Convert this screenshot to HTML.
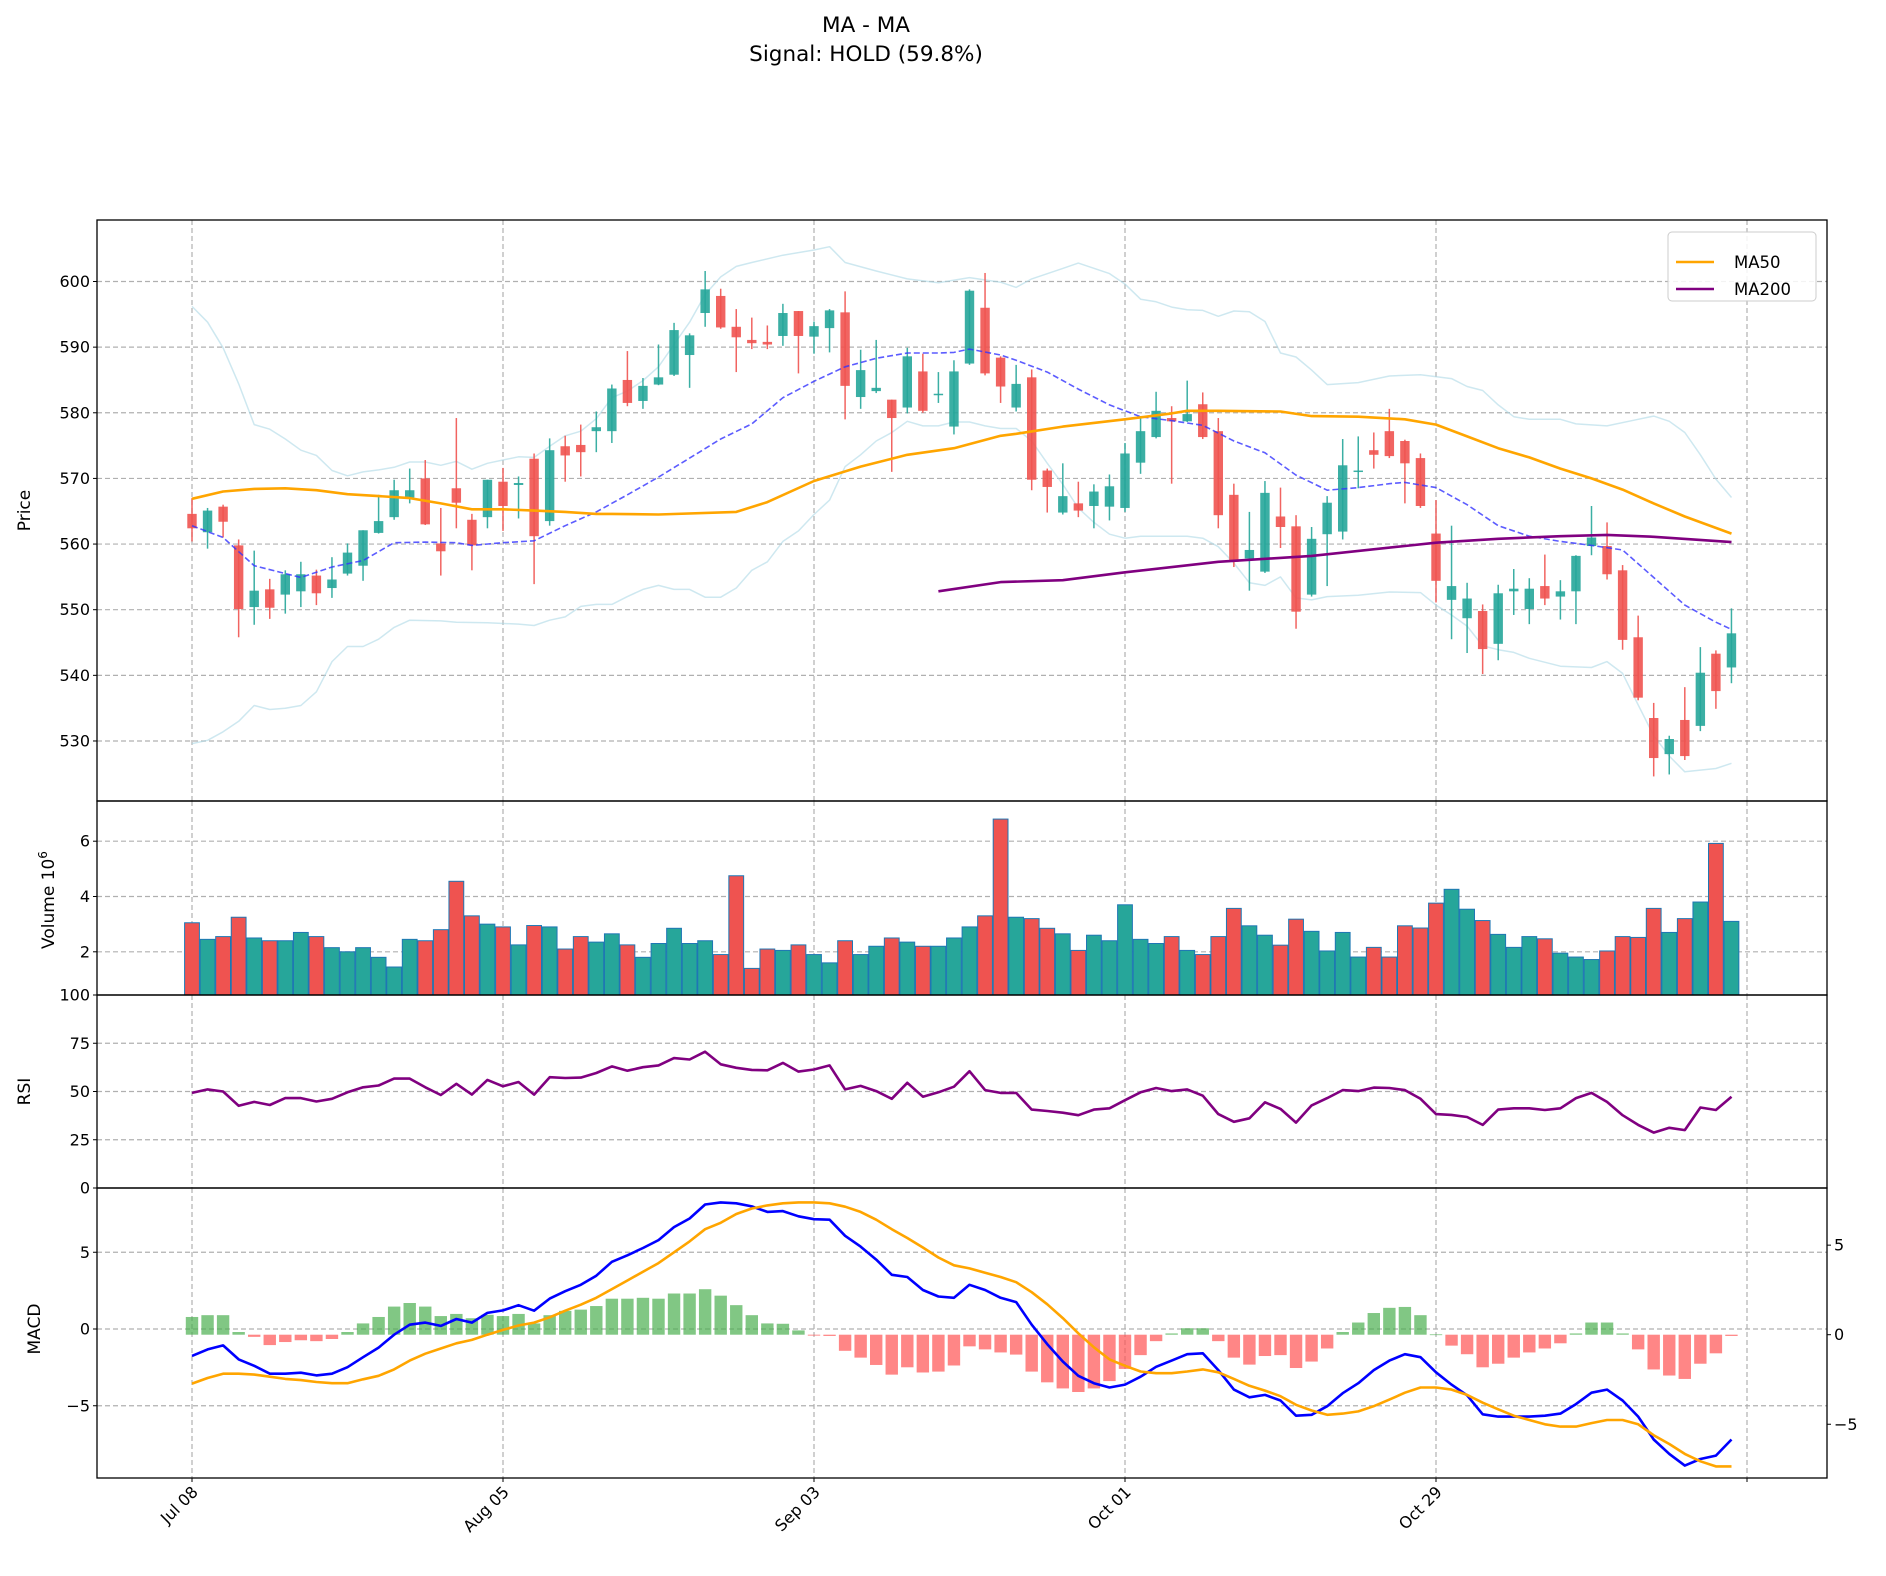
<!DOCTYPE html>
<html><head><meta charset="utf-8"><style>
body{margin:0;background:#fff}
svg{display:block;font-family:"DejaVu Sans","Liberation Sans",sans-serif}
</style></head><body>
<svg id="chart" width="1886" height="1576" viewBox="0 0 1886 1576" xmlns="http://www.w3.org/2000/svg">
<rect width="1886" height="1576" fill="#fff"/>
<text x="866" y="32" font-size="21.5" text-anchor="middle">MA - MA</text>
<text x="866" y="61" font-size="21.5" text-anchor="middle">Signal: HOLD (59.8%)</text>
<g id="grid"></g>
<g id="marks"></g>
<g id="axes"></g>
<g>
<rect x="1668" y="232" width="148" height="69" rx="4" fill="#fff" fill-opacity="0.85" stroke="#ccc"/>
<line x1="1676" y1="262" x2="1714" y2="262" stroke="orange" stroke-width="2.5"/>
<text x="1734" y="268" font-size="16.5">MA50</text>
<line x1="1676" y1="289" x2="1714" y2="289" stroke="purple" stroke-width="2.5"/>
<text x="1734" y="295" font-size="16.5">MA200</text>
</g>
</svg>
<script>
const open_=[564.6,561.8,565.7,559.8,550.4,553.1,552.3,552.8,555.2,553.3,555.5,556.7,561.7,564.1,567.1,570,560.1,568.5,563.7,564.1,569.5,569,573,563.5,574.9,575.1,577.2,577.2,585,581.8,584.3,585.8,588.8,595.2,597.8,593.1,591.1,590.8,591.7,595.5,591.6,592.9,595.3,582.4,583.3,582,580.8,586.3,582.7,577.9,587.5,596,588.4,580.8,585.4,571.2,564.8,566.2,565.8,565.7,565.5,572.4,576.3,579.2,578.7,581.3,577.2,567.5,557.8,555.8,564.2,562.7,552.3,561.5,561.9,571,574.3,577.2,575.7,573.1,561.6,551.5,548.7,549.8,544.8,552.8,550.1,553.6,552,552.8,559.7,559.7,556,545.8,533.5,528,533.2,532.3,543.3,541.2];
const close_=[562.4,565.1,563.4,550.1,552.9,550.3,555.4,555.4,552.5,554.6,558.7,562.1,563.5,568.2,568.2,563,558.9,566.3,559.8,569.8,565.8,569.3,561.2,574.3,573.5,574,577.8,583.7,581.5,584.1,585.4,592.6,591.8,598.8,593,591.5,590.6,590.4,595.2,591.7,593.2,595.6,584.1,586.5,583.8,579.2,588.6,580.3,582.9,586.3,598.6,586,584,584.4,569.8,568.7,567.3,565.1,568,568.8,573.8,577.2,580.3,578.7,579.8,576.3,564.4,557.3,559.1,567.8,562.6,549.7,560.8,566.3,572,571.2,573.6,573.4,572.3,565.8,554.4,553.6,551.7,544,552.5,553.2,553.2,551.7,552.8,558.2,561,555.4,545.4,536.6,527.4,530.3,527.7,540.4,537.6,546.4];
const high_=[567,565.5,566,560.7,559,554.7,556,557.3,556.1,558,560.1,562.1,567.5,569.8,571.5,572.8,565.5,579.2,564.6,569.8,571.6,570.3,573.8,576.1,576.5,578.2,580.2,584.3,589.4,585.3,590.4,593.7,592.1,601.6,598.9,595.8,594.5,593.3,596.6,595.5,593.9,595.8,598.5,589.6,591.1,582,589.9,589,586.2,588,598.8,601.3,588.6,587.3,586.6,571.5,572.3,569.5,569.1,570.6,575.4,579.5,583.2,581,584.9,583.1,579.2,569.2,564.9,569.6,568.6,564.4,562.6,567.3,576,576.4,577,580.6,575.9,573.8,566.7,562.8,554.1,550.8,553.8,556.2,554.8,558.4,554.5,558.3,565.8,563.3,556.8,549.1,535.8,530.8,538.2,544.3,543.8,550.2];
const low_=[560.4,559.3,561,545.8,547.7,548.6,549.4,550.4,550.7,551.8,555.2,554.4,561.6,563.7,566.2,562.9,555.2,562.4,556,562.4,562,563.9,553.9,562.8,569.5,570.3,574,575.4,581,580.6,584.2,585.6,583.8,593.1,592.8,586.2,589.7,589.7,590.2,586,589,589.2,579,580.6,583,571,579.9,580,581.5,576.7,587.3,585.7,581.5,580.2,568.2,564.8,564.5,564.1,562.4,563.6,564.9,570.7,576.1,569.2,578.6,576,562.4,556.5,552.9,555.6,559.4,547.1,552,553.6,560.7,568.5,571.5,573.1,566.2,565.5,551.1,545.5,543.4,540.2,542.3,549.2,547.8,550.7,548.5,547.8,558.3,554.6,543.9,536.2,524.6,524.9,527.1,531.5,534.9,538.8];
const volume_=[3.05,2.45,2.55,3.25,2.5,2.4,2.4,2.7,2.55,2.15,2.0,2.15,1.8,1.45,2.45,2.4,2.8,4.55,3.3,3.0,2.9,2.25,2.95,2.9,2.1,2.55,2.35,2.65,2.25,1.8,2.3,2.85,2.3,2.4,1.9,4.75,1.4,2.1,2.05,2.25,1.9,1.6,2.4,1.9,2.2,2.5,2.35,2.2,2.2,2.5,2.9,3.3,6.8,3.25,3.2,2.85,2.65,2.05,2.6,2.4,3.7,2.45,2.3,2.55,2.05,1.9,2.55,3.57,2.94,2.6,2.24,3.18,2.74,2.03,2.7,1.81,2.16,1.81,2.94,2.86,3.76,4.26,3.54,3.13,2.63,2.16,2.55,2.47,1.95,1.81,1.72,2.03,2.55,2.52,3.57,2.7,3.2,3.8,5.92,3.1];
const rsi_=[49.3,51.1,50,42.6,44.6,43,46.6,46.6,44.8,46.2,49.6,52.2,53.1,56.7,56.7,52.2,48.2,54,48.4,56,52.7,54.9,48.4,57.4,57,57.2,59.6,63,60.8,62.6,63.5,67.3,66.6,70.6,64.1,62.3,61.2,61,64.8,60.3,61.4,63.5,51.1,52.9,50.2,46.2,54.5,47.3,49.6,52.5,60.5,50.7,49.3,49.3,40.6,39.9,39,37.7,40.6,41.3,45.5,49.6,51.8,50.2,51.1,47.8,38.3,34.3,36.1,44.4,41,33.9,42.8,46.6,50.7,50.2,52,51.8,50.7,46.2,38.3,37.9,36.8,32.7,40.6,41.3,41.3,40.4,41.3,46.6,49.3,44.6,37.7,32.7,28.7,31.2,30,41.7,40.4,47.3];
const macd_=[-1.75,-1.33,-1.07,-1.98,-2.4,-2.91,-2.91,-2.85,-3.02,-2.91,-2.49,-1.84,-1.21,-0.37,0.28,0.42,0.2,0.65,0.42,1.05,1.21,1.55,1.19,1.98,2.46,2.88,3.47,4.38,4.8,5.28,5.79,6.64,7.2,8.11,8.25,8.19,7.99,7.63,7.68,7.34,7.15,7.12,6.07,5.37,4.52,3.53,3.39,2.54,2.12,2.03,2.88,2.54,2.03,1.75,0.28,-0.99,-2.12,-3.05,-3.53,-3.81,-3.62,-3.11,-2.46,-2.06,-1.64,-1.58,-2.68,-3.95,-4.45,-4.29,-4.66,-5.65,-5.59,-5.03,-4.18,-3.53,-2.68,-2.06,-1.64,-1.84,-2.82,-3.62,-4.32,-5.56,-5.71,-5.71,-5.71,-5.65,-5.51,-4.89,-4.15,-3.95,-4.66,-5.71,-7.2,-8.14,-8.9,-8.47,-8.25,-7.2];
const signal_=[-3.56,-3.19,-2.91,-2.91,-2.97,-3.11,-3.25,-3.33,-3.45,-3.53,-3.53,-3.28,-3.05,-2.63,-2.06,-1.61,-1.27,-0.93,-0.71,-0.37,-0.06,0.23,0.42,0.76,1.19,1.58,2.03,2.6,3.16,3.73,4.29,5,5.71,6.5,6.92,7.49,7.85,8.05,8.19,8.25,8.25,8.19,7.97,7.63,7.12,6.5,5.93,5.31,4.66,4.15,3.95,3.67,3.39,3.05,2.4,1.61,0.71,-0.28,-1.19,-1.98,-2.4,-2.77,-2.88,-2.88,-2.77,-2.63,-2.82,-3.25,-3.7,-4.01,-4.38,-4.94,-5.31,-5.59,-5.51,-5.37,-5.03,-4.6,-4.15,-3.81,-3.81,-3.95,-4.29,-4.8,-5.23,-5.65,-5.93,-6.21,-6.36,-6.36,-6.13,-5.93,-5.93,-6.21,-6.92,-7.49,-8.14,-8.62,-8.95,-8.95];
const hist_=[0.99,1.09,1.09,0.15,-0.12,-0.58,-0.41,-0.31,-0.36,-0.24,0.15,0.63,0.99,1.57,1.77,1.57,1.04,1.16,0.92,1.11,1.04,1.16,0.63,1.09,1.33,1.4,1.6,2.01,2.01,2.06,2.01,2.3,2.3,2.54,2.18,1.65,1.09,0.63,0.61,0.24,-0.05,-0.07,-0.9,-1.28,-1.69,-2.23,-1.82,-2.11,-2.06,-1.72,-0.65,-0.82,-0.99,-1.11,-2.06,-2.66,-3,-3.2,-3,-2.59,-1.91,-1.14,-0.36,0.07,0.36,0.36,-0.36,-1.28,-1.67,-1.19,-1.14,-1.86,-1.5,-0.77,0.15,0.68,1.21,1.5,1.55,1.09,0.02,-0.61,-1.09,-1.82,-1.62,-1.28,-0.99,-0.77,-0.48,0.07,0.68,0.68,0.07,-0.82,-1.94,-2.28,-2.47,-1.62,-1.04,-0.07];
const ma50Idx=[0,2,4,6,8,10,12,14,16,18,20,22,24,26,27,30,35,37,40,43,46,49,52,53,56,60,63,64,66,70,72,75,78,80,82,84,86,88,90,92,94,96,99];
const ma50Val=[566.9,568,568.4,568.5,568.2,567.6,567.3,567,566.2,565.3,565.3,565.1,564.9,564.6,564.6,564.5,564.9,566.4,569.6,571.8,573.6,574.6,576.5,576.8,577.9,579,579.9,580.3,580.3,580.2,579.5,579.4,579,578.2,576.4,574.6,573.2,571.5,570,568.3,566.2,564.2,561.6];
const ma200Idx=[48,52,56,60,66,72,78,80,84,88,91,94,99];
const ma200Val=[552.8,554.2,554.5,555.7,557.3,558.2,559.7,560.2,560.8,561.2,561.4,561.1,560.3];
const bbMidIdx=[0,2,4,7,9,11,13,15,17,18,20,22,24,26,28,30,32,34,36,38,40,42,44,46,48,49,50,52,53,55,57,59,61,63,65,67,69,71,73,75,77,78,80,82,84,86,88,90,92,94,96,98,99];
const bbMidVal=[562.8,561,556.7,554.9,556.5,557.5,560.2,560.3,560.2,559.8,560.2,560.5,562.8,564.9,567.5,570.2,573.1,576,578.3,582.3,584.8,587,588.3,589.1,589.1,589.2,589.7,588.8,588,586.2,583.6,581.2,579.4,578.8,578.1,575.7,573.9,570.5,568.2,568.6,569.2,569.4,568.6,566,562.8,561.2,560.4,559.8,559.1,554.9,550.7,548.1,547];
const bbUpIdx=[0,1,2,3,4,5,6,7,8,9,10,11,12,13,14,15,16,17,18,19,20,21,22,23,24,25,26,27,28,29,30,31,32,33,34,35,36,38,40,41,42,44,46,48,50,52,53,54,56,57,59,60,61,62,63,64,65,66,67,68,69,70,71,72,73,75,77,79,81,82,83,84,85,86,88,89,91,93,94,95,96,97,98,99];
const bbUpVal=[596.2,593.8,589.9,584.4,578.2,577.5,576,574.3,573.5,571.2,570.4,571,571.3,571.7,572.5,572.5,572,572.6,571.4,572.3,572.8,573.3,573.2,574.9,576.5,577.2,579.1,582.3,583.3,584.9,587,590.4,593.8,598,600.7,602.3,602.9,604,604.8,605.3,602.9,601.6,600.4,599.8,600.6,599.9,599.1,600.4,602,602.8,601.2,599.6,597.3,596.9,596.1,595.7,595.6,594.7,595.5,595.4,593.9,589.1,588.5,586.5,584.3,584.6,585.6,585.8,585.2,584,583.4,581.2,579.4,579,579,578.3,578,579,579.5,578.7,577,573.6,569.9,567.1];
const bbLoIdx=[0,1,2,3,4,5,6,7,8,9,10,11,12,13,14,16,17,19,21,22,23,24,25,26,27,28,29,30,31,32,33,34,35,36,37,38,39,40,41,42,43,44,45,46,47,48,49,50,51,52,53,54,55,56,57,58,59,60,61,64,65,66,67,68,69,70,71,72,73,75,77,79,80,81,82,83,84,85,86,88,90,91,92,93,94,95,96,98,99];
const bbLoVal=[529.6,530.1,531.4,533,535.4,534.8,535,535.4,537.5,542.1,544.4,544.4,545.5,547.3,548.4,548.3,548.1,548,547.8,547.6,548.4,548.9,550.5,550.8,550.8,552,553.1,553.7,553.1,553.1,551.9,551.9,553.3,556,557.3,560.4,562,564.5,566.7,571.8,573.6,575.7,577,578.7,578,578,578.6,578.6,578,577.6,577.6,575.7,572.3,569.1,565.5,563.3,561.5,560.9,561.2,561.2,560.9,559.6,557.1,554.1,553.7,555,551.8,551.5,552,552.2,552.7,552.6,550.7,549.2,547.5,544.5,543.9,543.5,542.6,541.4,541.2,542.1,540.3,535.5,530.8,527.7,525.3,525.8,526.6];
const priceTicks=[530,540,550,560,570,580,590,600];
const volTicks=[2,4,6];
const rsiTicks=[0,25,50,75,100];
const macdTicks=[-5,0,5];
const histTicks=[-5,0,5];
const xTickIdx=[0,20,40,60,80,100];
const xTickLabels=["Jul 08","Aug 05","Sep 03","Oct 01","Oct 29",""];

const NS="http://www.w3.org/2000/svg";
const L=97,R=1827;
const P={top:220,bot:801},V={top:801,bot:995},Rs={top:995,bot:1188},M={top:1188,bot:1478};
const xS=i=>192+15.55*i;
const yP=p=>281.5+(600-p)*6.564;
const yV=v=>951.8-(v-2)*27.65;
const yR=r=>1188-r*1.93;
const yM=m=>1329-m*15.35;
const yH=h=>1334.7-h*17.91;
function mk(tag,attrs,parent){const e=document.createElementNS(NS,tag);for(const k in attrs)e.setAttribute(k,attrs[k]);parent.appendChild(e);return e;}
const grid=document.getElementById('grid'),marks=document.getElementById('marks'),axes=document.getElementById('axes');
const GS={stroke:"#b0b0b0","stroke-width":1.2,"stroke-dasharray":"5,3"};
function hgrid(y,name){const g=mk('line',Object.assign({x1:L,x2:R,y1:y,y2:y},GS),grid);}
function ytick(y,label,x,anchor,name){const t=mk('text',{x:x,y:y+5.5,"font-size":16,"text-anchor":anchor},axes);t.textContent=label;mk('line',{x1:anchor==="end"?L-4:R,x2:anchor==="end"?L:R+4,y1:y,y2:y,stroke:"#000"},axes);}
xTickIdx.forEach((i,k)=>{[P,V,Rs,M].forEach(pn=>{const g=mk('line',Object.assign({x1:xS(i),x2:xS(i),y1:pn.top,y2:pn.bot},GS),grid);});
 mk('line',{x1:xS(i),x2:xS(i),y1:M.bot,y2:M.bot+4,stroke:"#000"},axes);
 if(xTickLabels[k]){const t=mk('text',{x:0,y:0,"font-size":16,"text-anchor":"end",transform:`translate(${xS(i)+7},${M.bot+15}) rotate(-45)`},axes);t.textContent=xTickLabels[k];}});
priceTicks.forEach(p=>{hgrid(yP(p),'price-gridline');ytick(yP(p),String(p),L-7,"end",'price-tick');});
volTicks.forEach(v=>{hgrid(yV(v),'volume-gridline');ytick(yV(v),String(v),L-7,"end",'volume-tick');});
rsiTicks.forEach(r=>{if(r>0&&r<100)hgrid(yR(r),'rsi-gridline');ytick(yR(r),String(r),L-7,"end",'rsi-tick');});
macdTicks.forEach(m=>{hgrid(yM(m),'macd-gridline');ytick(yM(m),m<0?"\u2212"+(-m):String(m),L-7,"end",'macd-tick');});
histTicks.forEach(h=>{ytick(yH(h),h<0?"\u2212"+(-h):String(h),R+7,"start",'hist-tick');});
const defs=mk('defs',{},marks);
[["cp",P],["cv",V],["cr",Rs],["cm",M]].forEach(([id,pn])=>{const c=mk('clipPath',{id:id},defs);mk('rect',{x:L,y:pn.top,width:R-L,height:pn.bot-pn.top},c);});
const gP=mk('g',{"clip-path":"url(#cp)"},marks),gV=mk('g',{"clip-path":"url(#cv)"},marks),gR=mk('g',{"clip-path":"url(#cr)"},marks),gM=mk('g',{"clip-path":"url(#cm)"},marks);
function poly(idx,vals,yf,attrs,parent,name){const pts=idx.map((i,k)=>xS(i).toFixed(1)+","+yf(vals[k]).toFixed(1)).join(" ");const e=mk('polyline',Object.assign({points:pts,fill:"none","stroke-linejoin":"round"},attrs),parent);}
poly(bbUpIdx,bbUpVal,yP,{stroke:"#add8e6","stroke-width":1.5,"stroke-opacity":0.6},gP,'bollinger-upper');
poly(bbLoIdx,bbLoVal,yP,{stroke:"#add8e6","stroke-width":1.5,"stroke-opacity":0.6},gP,'bollinger-lower');
const UP="#26a69a",DN="#ef5350";
open_.forEach((o,i)=>{const c=close_[i],col=c>=o?UP:DN,x=xS(i);
 const w=mk('line',{x1:x,x2:x,y1:yP(high_[i]),y2:yP(low_[i]),stroke:col,"stroke-width":1.5,"stroke-opacity":0.9},gP);
 
 const top=yP(Math.max(o,c)),h=Math.max(1.5,Math.abs(yP(o)-yP(c)));
 const b=mk('rect',{x:x-4.7,y:top,width:9.4,height:h,fill:col,"fill-opacity":0.9},gP);
 });
poly(bbMidIdx,bbMidVal,yP,{stroke:"#3333ff","stroke-width":1.6,"stroke-opacity":0.8,"stroke-dasharray":"6,3"},gP,'bollinger-mid');
poly(ma50Idx,ma50Val,yP,{stroke:"orange","stroke-width":2.6},gP,'ma50-line');
poly(ma200Idx,ma200Val,yP,{stroke:"purple","stroke-width":2.6},gP,'ma200-line');
volume_.forEach((v,i)=>{const col=close_[i]>=open_[i]?UP:DN;const y=yV(v);
 const b=mk('rect',{x:xS(i)-7.4,y:y,width:14.8,height:V.bot-y+2,fill:col,stroke:"#1f77b4","stroke-width":1},gV);
 });
poly(rsi_.map((_,i)=>i),rsi_,yR,{stroke:"purple","stroke-width":2.6},gR,'rsi-line');
hist_.forEach((h,i)=>{const y0=yH(0),y1=yH(h);
 const b=mk('rect',{x:xS(i)-6.2,y:Math.min(y0,y1),width:12.4,height:Math.max(0.8,Math.abs(y1-y0)),fill:h>=0?"#4caf50":"#ff5252","fill-opacity":0.7},gM);
 });
poly(macd_.map((_,i)=>i),macd_,yM,{stroke:"blue","stroke-width":2.6},gM,'macd-line');
poly(signal_.map((_,i)=>i),signal_,yM,{stroke:"orange","stroke-width":2.6},gM,'signal-line');
[P,V,Rs,M].forEach(pn=>{const f=mk('rect',{x:L,y:pn.top,width:R-L,height:pn.bot-pn.top,fill:"none",stroke:"#000","stroke-width":1.3},axes);});
function ylab(txt,x,y,name){const t=mk('text',{x:0,y:0,"font-size":17,"text-anchor":"middle",transform:`translate(${x},${y}) rotate(-90)`},axes);t.textContent=txt;return t;}
ylab("Price",30,(P.top+P.bot)/2,'price-axis-title');
const vt=mk('text',{x:0,y:0,"font-size":17,"text-anchor":"middle",transform:`translate(54,900) rotate(-90)`},axes);


vt.appendChild(document.createTextNode("Volume  10"));
const sup=mk('tspan',{"font-size":12,dy:-7},vt);sup.textContent="6";
ylab("RSI",30,(Rs.top+Rs.bot)/2,'rsi-axis-title');
ylab("MACD",40,1329,'macd-axis-title');
</script>
</body></html>
